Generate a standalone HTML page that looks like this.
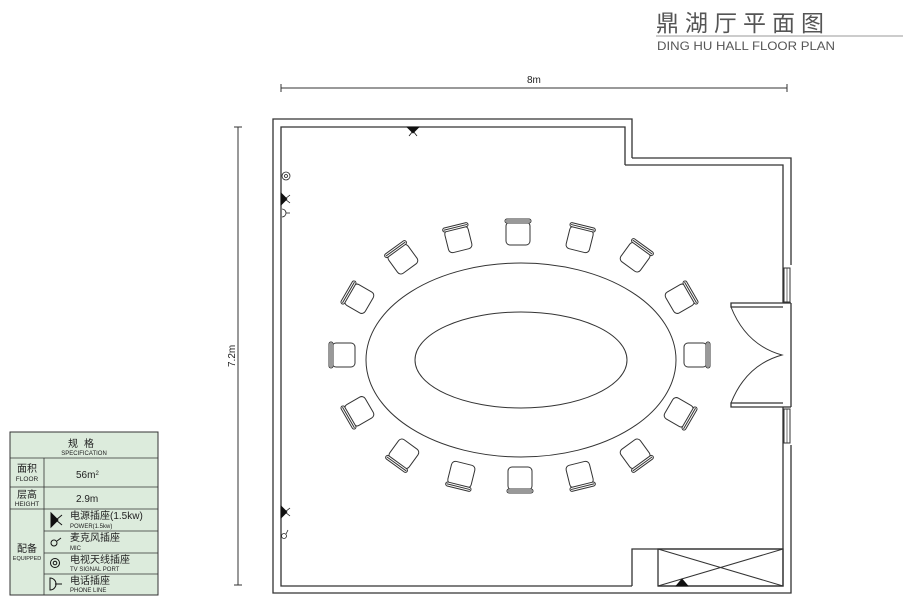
<!DOCTYPE html>
<html><head><meta charset="utf-8"><style>
body{margin:0;background:#fff;}
svg{display:block;}
text{font-family:"Liberation Sans","Noto Sans CJK SC",sans-serif;}
</style></head><body>
<svg width="915" height="607" viewBox="0 0 915 607" xmlns="http://www.w3.org/2000/svg">
<defs>
<g id="ch" fill="#fff" stroke="#333" stroke-width="1">
<rect x="-12" y="-10" width="24" height="23" rx="4"/>
<rect x="-13" y="-13" width="26" height="4" rx="2"/>
<line x1="-12" y1="-11" x2="12" y2="-11"/>
</g>
</defs>
<text x="656" y="31" font-size="23" fill="#555" letter-spacing="6" font-family="'Noto Sans CJK SC',sans-serif">鼎湖厅平面图</text>
<line x1="656" y1="36" x2="903" y2="36" stroke="#999" stroke-width="1"/>
<text x="657" y="50" font-size="12" fill="#555" textLength="178" lengthAdjust="spacingAndGlyphs">DING HU HALL FLOOR PLAN</text>
<line x1="281" y1="88" x2="787" y2="88" stroke="#333"/>
<line x1="281" y1="84" x2="281" y2="92" stroke="#333"/>
<line x1="787" y1="84" x2="787" y2="92" stroke="#333"/>
<text x="527" y="83" font-size="10" fill="#222">8m</text>
<line x1="238" y1="127" x2="238" y2="585" stroke="#333"/>
<line x1="234" y1="127" x2="242" y2="127" stroke="#333"/>
<line x1="234" y1="585" x2="242" y2="585" stroke="#333"/>
<text x="0" y="0" font-size="10" fill="#222" transform="translate(235,367) rotate(-90)">7.2m</text>
<g fill="none" stroke="#333" stroke-width="1.3">
<polyline points="632,158 632,119 273,119 273,593 791,593 791,445"/>
<polyline points="791,407 791,303"/>
<polyline points="791,265 791,158 632,158"/>
<polyline points="625,165 625,127 281,127 281,586 632,586"/>
<polyline points="658,586 783,586 783,407"/>
<polyline points="783,303 783,165 625,165"/>
<polyline points="632,586 632,549 783,549"/>
<rect x="658" y="549" width="125" height="37"/>
<line x1="658" y1="549" x2="783" y2="586" stroke-width="1"/>
<line x1="658" y1="586" x2="783" y2="549" stroke-width="1"/>
<polyline points="783,303 731,303 731,307 783,307"/>
<polyline points="783,407 731,407 731,403 783,403"/>
<line x1="783" y1="303" x2="791" y2="303"/>
<line x1="783" y1="407" x2="791" y2="407"/>
<path d="M731,307 Q746,345 782,355 Q746,365 731,403" stroke-width="1"/>
<rect x="784" y="268" width="6" height="34" stroke-width="1"/>
<rect x="784" y="409" width="6" height="34" stroke-width="1"/>
<line x1="787" y1="268" x2="787" y2="302" stroke-width="0.7"/>
<line x1="787" y1="409" x2="787" y2="443" stroke-width="0.7"/>
<ellipse cx="521" cy="360" rx="155" ry="97" stroke-width="1"/>
<ellipse cx="521" cy="360" rx="106" ry="48" stroke-width="1"/>
</g>
<use href="#ch" transform="translate(342,355) rotate(-90)"/>
<use href="#ch" transform="translate(358,298) rotate(-60)"/>
<use href="#ch" transform="translate(402,258) rotate(-36)"/>
<use href="#ch" transform="translate(458,238) rotate(-14)"/>
<use href="#ch" transform="translate(518,232) rotate(0)"/>
<use href="#ch" transform="translate(580,238) rotate(14)"/>
<use href="#ch" transform="translate(636,256) rotate(36)"/>
<use href="#ch" transform="translate(681,298) rotate(60)"/>
<use href="#ch" transform="translate(697,355) rotate(90)"/>
<use href="#ch" transform="translate(680,413) rotate(120)"/>
<use href="#ch" transform="translate(636,455) rotate(144)"/>
<use href="#ch" transform="translate(580,476) rotate(166)"/>
<use href="#ch" transform="translate(520,480) rotate(180)"/>
<use href="#ch" transform="translate(461,476) rotate(-166)"/>
<use href="#ch" transform="translate(403,455) rotate(-144)"/>
<use href="#ch" transform="translate(358,412) rotate(-120)"/>
<g fill="#111" stroke="#111" stroke-width="0.8">
<path d="M407,127 L419,127 L413,133 Z"/><line x1="413" y1="131" x2="409" y2="136"/><line x1="413" y1="131" x2="417" y2="136"/>
<path d="M281,193 L281,205 L287,199 Z"/><line x1="285" y1="199" x2="290" y2="195"/><line x1="285" y1="199" x2="290" y2="203"/>
<path d="M281,506 L281,518 L287,512 Z"/><line x1="285" y1="512" x2="290" y2="508"/><line x1="285" y1="512" x2="290" y2="516"/>
<path d="M676,586 L688,586 L682,579 Z"/>
</g>
<g fill="none" stroke="#222" stroke-width="0.8">
<circle cx="286" cy="176" r="4"/><circle cx="286" cy="176" r="1.5"/>
<path d="M282,209 A4,4 0 0 1 282,217"/><line x1="286" y1="213" x2="290" y2="213"/>
<circle cx="284" cy="536" r="2.5"/><line x1="286" y1="534" x2="288" y2="530"/>
</g>
<rect x="10" y="432" width="148" height="163" stroke="#333" stroke-width="1" fill="#dcebdc"/>
<g stroke="#333" stroke-width="0.8">
<line x1="10" y1="458" x2="158" y2="458"/>
<line x1="10" y1="487" x2="158" y2="487"/>
<line x1="10" y1="509" x2="158" y2="509"/>
<line x1="44" y1="531" x2="158" y2="531"/>
<line x1="44" y1="553" x2="158" y2="553"/>
<line x1="44" y1="574" x2="158" y2="574"/>
<line x1="44" y1="458" x2="44" y2="595"/>
</g>
<g fill="#222">
<text x="84" y="447" font-size="10" text-anchor="middle" letter-spacing="6">规格</text>
<text x="84" y="455" font-size="6" text-anchor="middle">SPECIFICATION</text>
<text x="27" y="472" font-size="10" text-anchor="middle">面积</text>
<text x="27" y="481" font-size="6.5" text-anchor="middle">FLOOR</text>
<text x="27" y="498" font-size="10" text-anchor="middle">层高</text>
<text x="27" y="506" font-size="6.5" text-anchor="middle">HEIGHT</text>
<text x="27" y="552" font-size="10" text-anchor="middle">配备</text>
<text x="27" y="560" font-size="5.5" text-anchor="middle">EQUIPPED</text>
<text x="76" y="478" font-size="10">56m<tspan font-size="6" dy="-3">2</tspan></text>
<text x="76" y="502" font-size="10">2.9m</text>
<text x="70" y="519" font-size="10">电源插座(1.5kw)</text>
<text x="70" y="528" font-size="6">POWER(1.5kw)</text>
<text x="70" y="541" font-size="10">麦克风插座</text>
<text x="70" y="550" font-size="6">MIC</text>
<text x="70" y="563" font-size="10">电视天线插座</text>
<text x="70" y="571" font-size="6">TV SIGNAL PORT</text>
<text x="70" y="584" font-size="10">电话插座</text>
<text x="70" y="592" font-size="6">PHONE LINE</text>
</g>
<g stroke="#111" fill="none" stroke-width="1">
<path d="M51,513 L51,527 L58,520 Z" fill="#111"/><line x1="56" y1="520" x2="62" y2="515"/><line x1="56" y1="520" x2="62" y2="525"/>
<circle cx="54" cy="543" r="3"/><line x1="57" y1="541" x2="61" y2="538"/>
<circle cx="55" cy="563" r="4.5"/><circle cx="55" cy="563" r="1.8"/>
<path d="M50,578 A5,5 0 0 1 50,590 Z"/><line x1="55" y1="584" x2="62" y2="584"/>
</g>
</svg>
</body></html>
